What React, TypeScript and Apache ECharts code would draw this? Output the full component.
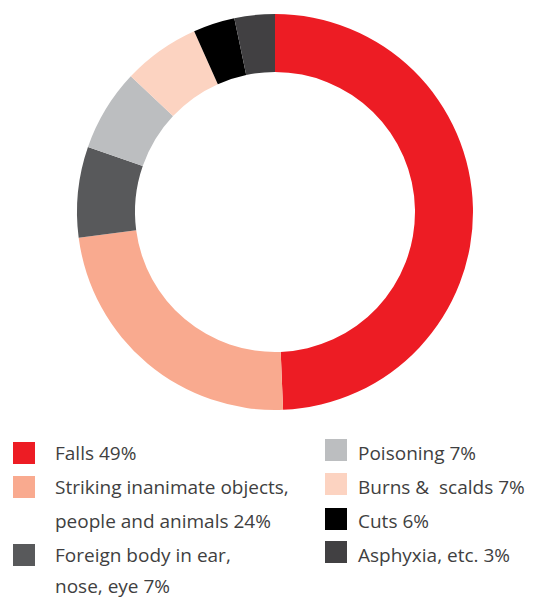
import React, { useEffect, useRef } from "react";
import * as echarts from "echarts";

const categories = [
  "Falls",
  "Striking inanimate objects, people and animals",
  "Foreign body in ear, nose, eye",
  "Poisoning",
  "Burns & scalds",
  "Cuts",
  "Asphyxia, etc.",
];
// slice sizes as drawn in the picture (share of the ring, in %)
const sliceValues = [49.4, 23.6, 7.4, 6.7, 6.3, 3.4, 3.3];
const colors = ["#ED1C24", "#F9AA8F", "#58595B", "#BCBEC0", "#FCD3C1", "#000000", "#414042"];
// legend texts (lines) as printed
const legendLines = [
  ["Falls 49%"],
  ["Striking inanimate objects,", "people and animals 24%"],
  ["Foreign body in ear,", "nose, eye 7%"],
  ["Poisoning 7%"],
  ["Burns &  scalds 7%"],
  ["Cuts 6%"],
  ["Asphyxia, etc. 3%"],
];

export default function App() {
  const ref = useRef<HTMLDivElement>(null);
  useEffect(() => {
    if (!ref.current) return;
    const chart = echarts.init(ref.current, undefined, { renderer: "svg" });
    const font = "'Open Sans', sans-serif";
    const fontSize = 19;
    const lineH = 34;
    const graphic: any[] = [];
    const leftRowStart = [0, 1, 3];
    const rightRow = [0, 1, 2, 3];
    const topText = 453;
    const place = (idx: number, col: number, row: number) => {
      const sqX = col === 0 ? 13 : 325;
      const txX = col === 0 ? 55 : 358;
      const cy = topText + row * lineH;
      graphic.push({
        type: "rect",
        shape: { x: sqX, y: cy - 11 + (col === 1 ? -3 : 0) + (col === 1 && row === 2 ? 1 : 0), width: 22, height: 22 },
        style: { fill: colors[idx] },
      });
      legendLines[idx].forEach((line, li) => {
        graphic.push({
          type: "text",
          x: txX,
          y: Math.min(cy + li * lineH, 586),
          style: {
            text: line,
            font: `${fontSize}px ${font}`,
            lineHeight: 18,
            fill: "#3f3f41",
            verticalAlign: "middle",
          },
        });
      });
    };
    [0, 1, 2].forEach((idx, i) => place(idx, 0, leftRowStart[i]));
    [3, 4, 5, 6].forEach((idx, i) => place(idx, 1, rightRow[i]));

    chart.setOption({
      animation: false,
      color: colors,
      series: [
        {
          type: "pie",
          center: [275, 212],
          radius: [140, 198],
          startAngle: 90,
          clockwise: true,
          label: { show: false },
          labelLine: { show: false },
          emphasis: { disabled: true },
          data: categories.map((c, i) => ({ name: c, value: sliceValues[i] })),
        },
      ],
      graphic,
    });
    return () => chart.dispose();
  }, []);
  return (
    <div
      ref={ref}
      style={{ position: "fixed", left: 0, top: 0, width: 533, height: 601, background: "#fff" }}
    />
  );
}
